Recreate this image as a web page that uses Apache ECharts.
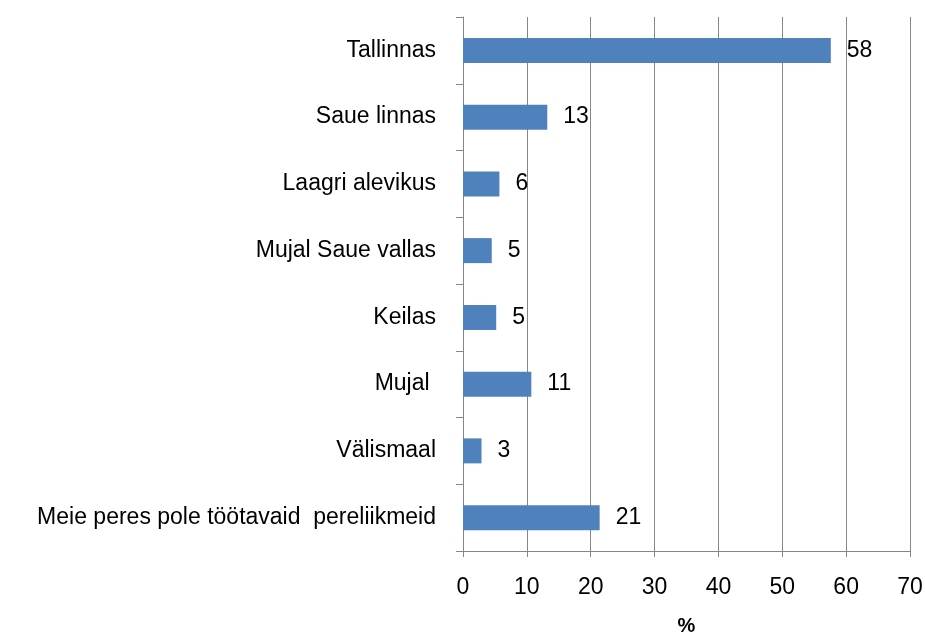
<!DOCTYPE html>
<html>
<head>
<meta charset="utf-8">
<script src="https://cdn.jsdelivr.net/npm/echarts@6/dist/echarts.min.js"></script>
<style>
  html, body { margin: 0; padding: 0; background: #fff; overflow: hidden; }
  #chart { width: 925px; height: 635px; }
</style>
</head>
<body>
<div id="chart"></div>
<script>
// kategooriad ülevalt alla
let categories = ['Tallinnas', 'Saue linnas', 'Laagri alevikus', 'Mujal Saue vallas', 'Keilas', 'Mujal ', 'Välismaal', 'Meie peres pole töötavaid  pereliikmeid'];
let values = [57.6, 13.2, 5.7, 4.5, 5.2, 10.7, 2.9, 21.4];
let xMin = 0;
let xMax = 70;
let xStep = 10;

let font = '"Liberation Sans", Arial, sans-serif';
let axisColor = '#868686';

let chart = echarts.init(document.getElementById('chart'), null, { width: 925, height: 635 });
let option = {
    animation: false,
    textStyle: { fontFamily: font },
    grid: {
        left: 463,
        right: 15,
        top: 17,
        bottom: 84,
        containLabel: false,
        outerBoundsMode: 'none'
    },
    xAxis: {
        type: 'value',
        min: xMin,
        max: xMax,
        interval: xStep,
        name: '%',
        nameLocation: 'middle',
        nameGap: 65,
        nameTextStyle: { color: '#000', fontSize: 20, fontWeight: 'bold', fontFamily: font },
        axisLine: { show: true, lineStyle: { color: axisColor, width: 1 } },
        axisTick: { show: true, length: 6, lineStyle: { color: axisColor } },
        axisLabel: { color: '#000', fontSize: 23, margin: 25, fontFamily: font },
        splitLine: { show: true, lineStyle: { color: axisColor, width: 1 } }
    },
    yAxis: {
        type: 'category',
        data: categories,
        inverse: true,
        axisLine: { show: true, lineStyle: { color: axisColor, width: 1 } },
        axisTick: { show: true, length: 7, lineStyle: { color: axisColor } },
        axisLabel: { color: '#000', fontSize: 23, margin: 27, fontFamily: font }
    },
    series: [
        {
            type: 'bar',
            data: values,
            barWidth: 25,
            itemStyle: { color: '#4F81BD' },
            label: {
                show: true,
                position: 'right',
                distance: 16,
                color: '#000',
                fontSize: 23,
                fontFamily: font,
                formatter: p => Math.round(p.value)
            }
        }
    ]
};
chart.setOption(option);
</script>
</body>
</html>
